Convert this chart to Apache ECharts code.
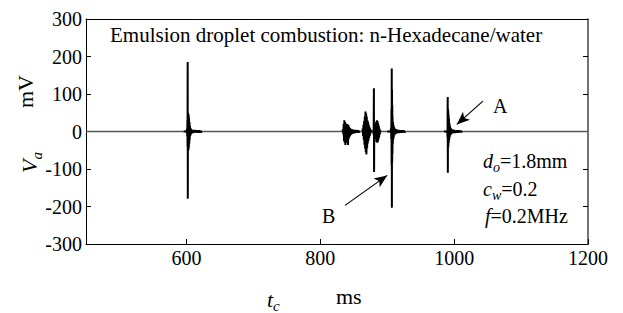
<!DOCTYPE html>
<html>
<head>
<meta charset="utf-8">
<script src="https://cdn.jsdelivr.net/npm/echarts@6/dist/echarts.min.js"></script>
<style>
html,body{margin:0;padding:0;background:#fff;}
#chart{width:623px;height:313px;}
</style>
</head>
<body>
<div id="chart"></div>
<script>
// ---- data (time in ms, voltage in mV) ----
var xTicks = [600, 800, 1000, 1200];
var yTicks = [-300, -200, -100, 0, 100, 200, 300];
var baseline = [[450, 0], [1200, 0]];

var burst602 = [[596,0],[600.5,0],[600.9,8],[601.2,-12],[601.5,30],[601.7,-40],[601.9,185],[602.1,-179],[602.3,50],[602.5,-53],[602.7,48],[602.9,-50],[603.1,45],[603.3,-46],[603.5,42],[603.7,-40],[604,35],[604.3,-32],[604.6,25],[604.9,-22],[605.3,15],[605.7,-12],[606.2,9],[606.7,-8],[607.3,6],[608,-5],[609,4],[610,-4],[611,4],[612,-3],[613,4],[614,-3],[615,3],[616,-3],[617,3],[618,-3],[619,3],[620,-3],[621,2],[622,-2],[623,0]];

var burst836 = [[833,0],[834,5],[834.5,-8],[835,20],[835.5,-25],[836,30],[836.5,-30],[837,25],[837.5,-36],[838,22],[838.5,-30],[839,18],[839.5,-25],[840,20],[840.5,-22],[841,15],[841.5,-36],[842,18],[842.5,-20],[843,12],[843.5,-15],[844,10],[844.5,-12],[845,8],[846,-8],[847,6],[848,-6],[849,5],[850,-5],[851,4],[852,-4],[853,4],[854,-3],[855,3],[856,-3],[857,3],[858,-2],[859,0]];

var burst868 = [[863,0],[863.5,8],[864,-12],[864.5,18],[865,-22],[865.5,28],[866,-35],[866.5,40],[867,-45],[867.5,53],[868,-55],[868.5,48],[869,-61],[869.5,40],[870,-45],[870.5,30],[871,-32],[871.5,25],[872,-25],[872.5,18],[873,-18],[873.5,12],[874,-12],[874.5,8],[875,-6],[875.5,4],[876,0]];

var burst880 = [[877,0],[879.5,0],[879.8,-10],[880.1,115],[880.4,-108],[880.7,20],[881,-15],[881.5,10],[882,-12],[882.5,15],[883,-20],[883.5,25],[884,-28],[884.5,30],[885,-30],[885.5,28],[886,-28],[886.5,22],[887,-22],[887.5,15],[888,-15],[888.5,8],[889,-8],[889.5,3],[890,0]];

var burst907 = [[900,0],[905.5,0],[905.8,10],[906.1,-20],[906.4,60],[906.6,-90],[906.8,168],[907,-203],[907.2,112],[907.4,-83],[907.6,70],[907.8,-60],[908,40],[908.3,-35],[908.6,25],[909,-22],[909.4,18],[909.8,-16],[910.3,12],[910.8,-10],[911.5,8],[912.2,-7],[913,6],[914,-5],[915,5],[916,-4],[917,4],[918,-4],[919,3],[920,-3],[921,3],[922,-3],[923,3],[924,-2],[925,2],[926,-2],[927,0]];

var burst990 = [[985,0],[989.8,0],[990.1,-15],[990.4,92],[990.6,-110],[990.8,60],[991,-45],[991.2,55],[991.4,-38],[991.7,45],[992,-30],[992.3,35],[992.7,-22],[993.1,22],[993.5,-15],[994,14],[994.5,-10],[995,9],[995.6,-7],[996.2,6],[997,-5],[998,5],[999,-4],[1000,4],[1001,-4],[1002,3],[1003,-3],[1004,3],[1005,-3],[1006,3],[1007,-2],[1008,2],[1009,-2],[1010,2],[1011,-1],[1012,0]];

var arrowA = [[1043, 81], [1004, 19]];
var arrowB = [[837, -197], [900, -117]];

// ---- chart ----
var FAM = "'Liberation Serif', 'Times New Roman', serif";
var chart = echarts.init(document.getElementById('chart'), null, {renderer: 'svg'});

function burstSeries(data) {
  return {
    type: 'line', data: data, xAxisIndex: 0, yAxisIndex: 0,
    showSymbol: false, symbol: 'none', silent: true, animation: false,
    lineStyle: {color: '#000', width: 2, join: 'bevel'},
    z: 3
  };
}
function arrowLine(pts) {
  return [{coord: pts[0], symbol: 'none'}, {coord: pts[1], symbol: 'arrow', symbolSize: [8, 13]}];
}
function plain(v) { return String(v); }

var option = {
  backgroundColor: '#fff',
  animation: false,
  grid: {left: 86, right: 35, top: 19, bottom: 69, show: false},
  xAxis: [{
    type: 'value', min: 450, max: 1200, position: 'bottom',
    axisLine: {show: true, onZero: false, lineStyle: {color: '#000', width: 1}},
    axisTick: {show: true, inside: true, length: 5, customValues: xTicks, lineStyle: {color: '#000'}},
    axisLabel: {show: true, customValues: xTicks, formatter: plain, color: '#000', fontSize: 20, fontFamily: FAM, margin: 4},
    splitLine: {show: false}
  }, {
    type: 'value', min: 450, max: 1200, position: 'top',
    axisLine: {show: true, onZero: false, lineStyle: {color: '#000', width: 1}},
    axisTick: {show: false}, axisLabel: {show: false}, splitLine: {show: false}
  }],
  yAxis: [{
    type: 'value', min: -300, max: 300, interval: 100, position: 'left',
    axisLine: {show: true, onZero: false, lineStyle: {color: '#000', width: 1}},
    axisTick: {show: true, inside: true, length: 5, lineStyle: {color: '#000'}},
    axisLabel: {show: true, formatter: plain, color: '#000', fontSize: 20, fontFamily: FAM, margin: 4},
    splitLine: {show: false}
  }, {
    type: 'value', min: -300, max: 300, interval: 100, position: 'right',
    axisLine: {show: true, onZero: false, lineStyle: {color: '#444', width: 1.5}},
    axisTick: {show: true, inside: true, length: 5, lineStyle: {color: '#000'}},
    axisLabel: {show: false}, splitLine: {show: false}
  }],
  series: [
    {
      type: 'line', data: baseline, showSymbol: false, symbol: 'none', silent: true,
      lineStyle: {color: '#555', width: 1.3}, z: 2,
      markLine: {
        silent: true, animation: false,
        lineStyle: {color: '#000', width: 1.2, type: 'solid'},
        itemStyle: {color: '#000'},
        label: {show: false},
        data: [arrowLine(arrowA), arrowLine(arrowB)]
      }
    },
    burstSeries(burst602),
    burstSeries(burst836),
    burstSeries(burst868),
    burstSeries(burst880),
    burstSeries(burst907),
    burstSeries(burst990)
  ],
  graphic: [
    {type: 'text', left: 110, top: 24, style: {text: 'Emulsion droplet combustion: n-Hexadecane/water', fontFamily: FAM, fontSize: 21, fill: '#000'}},
    {type: 'text', x: 493, y: 96, style: {text: 'A', fontFamily: FAM, fontSize: 20, fill: '#000'}},
    {type: 'text', x: 322, y: 206, style: {text: 'B', fontFamily: FAM, fontSize: 20, fill: '#000'}},
    {type: 'text', x: 483, y: 148, style: {
      text: '{i|d}{s|o}{n|=1.8mm}',
      rich: {
        i: {fontFamily: FAM, fontSize: 20, fontStyle: 'italic', lineHeight: 26, fill: '#000'},
        s: {fontFamily: FAM, fontSize: 14, fontStyle: 'italic', lineHeight: 26, verticalAlign: 'bottom', fill: '#000'},
        n: {fontFamily: FAM, fontSize: 20, lineHeight: 26, fill: '#000'}
      }}},
    {type: 'text', x: 483, y: 176, style: {
      text: '{i|c}{s|w}{n|=0.2}',
      rich: {
        i: {fontFamily: FAM, fontSize: 20, fontStyle: 'italic', lineHeight: 26, fill: '#000'},
        s: {fontFamily: FAM, fontSize: 14, fontStyle: 'italic', lineHeight: 26, verticalAlign: 'bottom', fill: '#000'},
        n: {fontFamily: FAM, fontSize: 20, lineHeight: 26, fill: '#000'}
      }}},
    {type: 'text', x: 485, y: 203, style: {
      text: '{i|f}{n|=0.2MHz}',
      rich: {
        i: {fontFamily: FAM, fontSize: 20, fontStyle: 'italic', lineHeight: 26, fill: '#000'},
        n: {fontFamily: FAM, fontSize: 20, lineHeight: 26, fill: '#000'}
      }}},
    {type: 'text', x: 267, y: 285, style: {
      text: '{i|t}{s|c}',
      rich: {
        i: {fontFamily: FAM, fontSize: 22, fontStyle: 'italic', lineHeight: 28, fill: '#000'},
        s: {fontFamily: FAM, fontSize: 15, fontStyle: 'italic', lineHeight: 28, verticalAlign: 'bottom', fill: '#000'}
      }}},
    {type: 'text', x: 336, y: 285, style: {text: 'ms', fontFamily: FAM, fontSize: 22, fill: '#000'}},
    {type: 'text', x: 14, y: 108, rotation: Math.PI / 2, style: {text: 'mV', fontFamily: FAM, fontSize: 22, fill: '#000'}},
    {type: 'text', x: 14, y: 173, rotation: Math.PI / 2, style: {
      text: '{i|V}{s|a}',
      rich: {
        i: {fontFamily: FAM, fontSize: 22, fontStyle: 'italic', lineHeight: 30, fill: '#000'},
        s: {fontFamily: FAM, fontSize: 15, fontStyle: 'italic', lineHeight: 30, verticalAlign: 'bottom', fill: '#000'}
      }}}
  ]
};
chart.setOption(option);
</script>
</body>
</html>
